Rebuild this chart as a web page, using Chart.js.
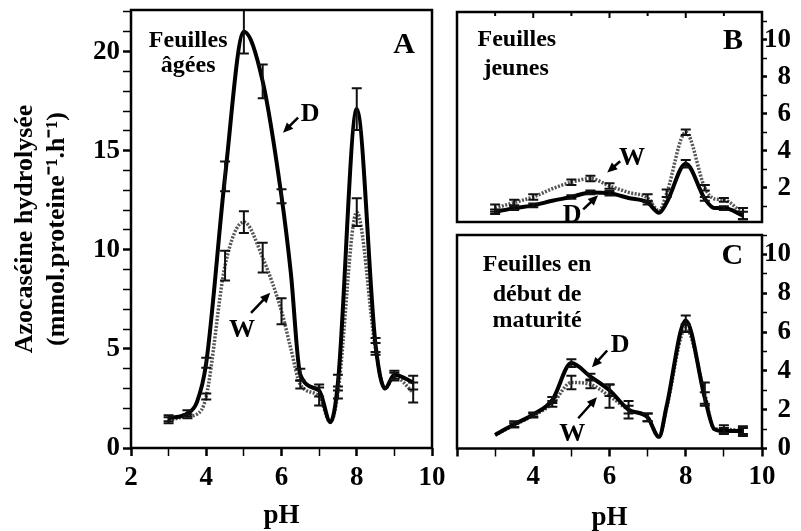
<!DOCTYPE html>
<html>
<head>
<meta charset="utf-8">
<script src="https://cdn.jsdelivr.net/npm/chart.js@4"></script>
<style>
  body { margin: 0; background: #fff; }
  #wrap { position: relative; width: 801px; height: 531px; overflow: hidden; background: #fff; }
  canvas { position: absolute; }
</style>
</head>
<body>
<div id="wrap">
  <canvas id="chartA" width="460" height="531" style="left:0;top:0"></canvas>
  <canvas id="chartB" width="356" height="232" style="left:445px;top:0"></canvas>
  <canvas id="chartC" width="356" height="303" style="left:445px;top:228px"></canvas>
</div>
<script>
const FONT = 'Liberation Serif';

// A - feuilles âgées
const phA = [3, 3.5, 3.75, 4, 4.5, 5, 5.5, 6, 6.25, 6.5, 7, 7.3, 7.5, 8, 8.5, 8.75, 9, 9.5];
const dryA = [1.5, 1.75, 2.3, 4.3, 13.7, 21.0, 18.5, 12.7, 8.8, 3.7, 2.9, 1.3, 3.3, 17.1, 5.2, 3.0, 3.7, 3.3];
const dryErrA = [0.15, 0.15, null, 0.25, 0.75, 1.1, 0.85, 0.35, null, 0.3, 0.3, null, 0.4, 1.05, 0.35, null, 0.2, 0.35];
const wetA = [1.4, 1.6, 1.7, 2.6, 9.2, 11.4, 9.6, 6.9, 5.0, 3.2, 2.6, 1.3, 2.8, 11.9, 5.0, 3.0, 3.6, 2.8];
const wetErrA = [0.15, 0.1, null, 0.15, 0.75, 0.55, 0.75, 0.65, null, 0.2, 0.45, null, 0.3, 0.7, 0.3, null, 0.2, 0.5];

// B and C share the same pH points
const phBC = [3, 3.5, 4, 4.5, 5, 5.5, 6, 6.5, 7, 7.3, 7.5, 8, 8.5, 8.75, 9, 9.5];
// B - feuilles jeunes
const dryB = [0.7, 0.9, 1.05, 1.3, 1.5, 1.75, 1.7, 1.45, 1.2, 0.65, 1.2, 3.3, 1.4, 0.9, 0.9, 0.5];
const dryErrB = [0.12, 0.1, 0.1, null, 0.1, 0.1, 0.12, null, 0.1, null, null, 0.2, 0.1, null, 0.1, 0.2];
const wetB = [0.9, 1.2, 1.5, 1.95, 2.3, 2.5, 2.1, 1.75, 1.45, 0.75, 1.7, 5.0, 2.0, 1.4, 1.35, 0.6];
const wetErrB = [0.2, 0.15, 0.15, null, 0.15, 0.15, 0.15, null, 0.2, null, 0.2, 0.15, 0.15, null, 0.1, 0.3];
// C - feuilles en début de maturité
const dryC = [0.7, 1.25, 1.75, 2.5, 4.4, 3.7, 3.0, 2.0, 1.6, 0.6, 2.2, 6.6, 2.6, 1.0, 0.9, 0.9];
const dryErrC = [null, 0.15, 0.1, 0.15, 0.2, 0.15, 0.3, 0.2, 0.2, null, null, 0.25, 0.3, null, 0.15, 0.15];
const wetC = [0.7, 1.2, 1.7, 2.3, 3.4, 3.3, 2.7, 2.0, 1.6, 0.6, 2.1, 6.2, 2.8, 1.0, 1.0, 0.9];
const wetErrC = [null, 0.1, 0.1, 0.15, 0.35, 0.2, 0.6, 0.45, 0.2, null, null, 0.2, 0.6, null, 0.2, 0.25];

const yTitle = ['Azocaséine hydrolysée', '(mmol.proteine\u207B\u00B9.h\u207B\u00B9)'];

function bold(size, lineHeight) {
    return { family: FONT, size: size, weight: 'bold', lineHeight: lineHeight || 1.2 };
}

function series(ph, vals, errs, wet) {
    return {
        data: ph.map((p, i) => ({ x: p, y: vals[i] })),
        errors: errs,
        borderColor: wet ? '#555' : '#000',
        borderWidth: wet ? 3.5 : 4,
        borderDash: wet ? [2, 1.5] : [],
        pointRadius: 0,
        cubicInterpolationMode: 'monotone',
        fill: false
    };
}

function tickWidth(major) {
    return c => (c.tick && Math.abs(c.tick.value % major) < 1e-6) ? 2.5 : 1.5;
}

// error bars, notes, arrows and the box round the plot
const framePlugin = {
    id: 'frame',
    afterDatasetsDraw(chart, args, opts) {
        const { ctx, chartArea: a } = chart;
        const xs = chart.scales.x, ys = chart.scales.y;
        ctx.save();
        ctx.strokeStyle = '#111';
        ctx.lineWidth = 2;
        chart.data.datasets.forEach(ds => {
            ds.data.forEach((pt, i) => {
                const e = ds.errors[i];
                if (e == null) return;
                const px = xs.getPixelForValue(pt.x);
                const t = ys.getPixelForValue(pt.y + e), b = ys.getPixelForValue(pt.y - e);
                ctx.beginPath();
                ctx.moveTo(px, t); ctx.lineTo(px, b);
                ctx.moveTo(px - 5, t); ctx.lineTo(px + 5, t);
                ctx.moveTo(px - 5, b); ctx.lineTo(px + 5, b);
                ctx.stroke();
            });
        });

        ctx.beginPath();
        ctx.rect(a.left, a.top, a.right - a.left, a.bottom - a.top);
        ctx.clip();
        ctx.fillStyle = '#000';
        ctx.textAlign = 'center';
        ctx.textBaseline = 'middle';
        (opts.notes || []).forEach(n => {
            ctx.font = 'bold ' + n.size + 'px "' + FONT + '"';
            ctx.fillText(n.text, xs.getPixelForValue(n.at[0]), ys.getPixelForValue(n.at[1]));
        });
        ctx.strokeStyle = '#000';
        ctx.lineWidth = 2.5;
        (opts.arrows || []).forEach(ar => {
            const x1 = xs.getPixelForValue(ar.from[0]), y1 = ys.getPixelForValue(ar.from[1]);
            const x2 = xs.getPixelForValue(ar.to[0]), y2 = ys.getPixelForValue(ar.to[1]);
            const ang = Math.atan2(y2 - y1, x2 - x1);
            ctx.beginPath();
            ctx.moveTo(x1, y1);
            ctx.lineTo(x2 - 6 * Math.cos(ang), y2 - 6 * Math.sin(ang));
            ctx.stroke();
            ctx.beginPath();
            ctx.moveTo(x2, y2);
            ctx.lineTo(x2 - 10 * Math.cos(ang) + 4.5 * Math.sin(ang), y2 - 10 * Math.sin(ang) - 4.5 * Math.cos(ang));
            ctx.lineTo(x2 - 10 * Math.cos(ang) - 4.5 * Math.sin(ang), y2 - 10 * Math.sin(ang) + 4.5 * Math.cos(ang));
            ctx.closePath();
            ctx.fill();
        });
        ctx.restore();

        ctx.save();
        ctx.strokeStyle = '#000';
        ctx.lineWidth = 2.5;
        ctx.strokeRect(a.left, a.top, a.right - a.left, a.bottom - a.top);
        if (opts.topTicks) {
            ctx.lineWidth = 2;
            for (let v = 3; v <= 9; v++) {
                const px = xs.getPixelForValue(v);
                ctx.beginPath();
                ctx.moveTo(px, a.top);
                ctx.lineTo(px, a.top + (v % 2 === 0 ? 6 : 4));
                ctx.stroke();
            }
        }
        ctx.restore();
    }
};

function xAxis(opts) {
    return Object.assign({
        type: 'linear', min: 2, max: 10,
        border: { display: false },
        grid: { drawOnChartArea: false, tickLength: 8, tickColor: '#000', tickWidth: tickWidth(2) },
        ticks: {
            stepSize: 1, includeBounds: false, autoSkip: false, maxRotation: 0,
            color: '#000', font: bold(27), padding: 6,
            callback: v => v % 2 === 0 ? v : ''
        },
        title: { display: true, text: 'pH', color: '#000', font: bold(27, 1), padding: { top: 0, bottom: 1 } }
    }, opts);
}

function yRight(min, max, labelOk) {
    return {
        position: 'right', min: min, max: max,
        afterFit: s => { s.width = 29; },
        border: { display: false },
        grid: { drawOnChartArea: false, tickLength: 5, tickColor: '#000', tickWidth: tickWidth(2) },
        ticks: {
            stepSize: 1, includeBounds: false, autoSkip: false, color: '#000', font: bold(27, 0.4),
            padding: 0, crossAlign: 'far',
            callback: v => labelOk(v) ? v : ''
        }
    };
}

function makeChart(id, ph, dry, dryErr, wet, wetErr, scales, padding, frameOpts) {
    return new Chart(document.getElementById(id), {
        type: 'line',
        data: {
            datasets: [series(ph, dry, dryErr, false), series(ph, wet, wetErr, true)]
        },
        options: {
            responsive: false,
            animation: false,
            layout: { padding: padding },
            scales: scales,
            plugins: { legend: { display: false }, tooltip: { enabled: false }, frame: frameOpts }
        },
        plugins: [framePlugin]
    });
}

makeChart('chartA', phA, dryA, dryErrA, wetA, wetErrA, {
    x: xAxis({ afterFit: s => { s.height = 83; } }),
    y: {
        min: 0, max: 22.1,
        afterFit: s => { s.width = 131; },
        border: { display: false },
        grid: { drawOnChartArea: false, tickLength: 8, tickColor: '#000', tickWidth: tickWidth(5) },
        ticks: {
            stepSize: 1, includeBounds: false, autoSkip: false, color: '#000', font: bold(27, 0.4), padding: 3,
            callback: v => v % 5 === 0 ? v : ''
        },
        title: { display: true, text: yTitle, color: '#000', font: bold(26, 1.2), padding: { top: 10 } }
    }
}, { top: 10, right: 28, left: 0, bottom: 0 }, {
    notes: [
        { text: 'Feuilles', at: [3.52, 20.56], size: 24 },
        { text: 'âgées', at: [3.52, 19.29], size: 24 },
        { text: 'A', at: [9.26, 20.3], size: 30 },
        { text: 'D', at: [6.76, 16.82], size: 26 },
        { text: 'W', at: [4.95, 5.96], size: 26 }
    ],
    arrows: [
        { from: [6.44, 16.67], to: [6.04, 15.91] },
        { from: [5.19, 6.82], to: [5.70, 7.83] }
    ]
});

makeChart('chartB', phBC, dryB, dryErrB, wetB, wetErrB, {
    x: { type: 'linear', min: 2, max: 10, display: false },
    y: yRight(0.15, 11.5, v => v > 0 && v % 2 === 0)
}, { top: 12, right: 10, left: 12, bottom: 10 }, {
    topTicks: true,
    notes: [
        { text: 'Feuilles', at: [3.57, 9.99], size: 24 },
        { text: 'jeunes', at: [3.55, 8.42], size: 24 },
        { text: 'B', at: [9.24, 9.94], size: 30 },
        { text: 'W', at: [6.59, 3.59], size: 26 },
        { text: 'D', at: [5.02, 0.5], size: 26 }
    ],
    arrows: [
        { from: [6.28, 3.43], to: [5.94, 2.83] },
        { from: [5.31, 0.83], to: [5.70, 1.59] }
    ]
});

makeChart('chartC', phBC, dryC, dryErrC, wetC, wetErrC, {
    x: xAxis({
        afterFit: s => { s.height = 82.5; },
        ticks: {
            stepSize: 1, includeBounds: false, autoSkip: false, maxRotation: 0,
            color: '#000', font: bold(27), padding: 4,
            callback: v => v > 2 && v % 2 === 0 ? v : ''
        },
        title: { display: true, text: 'pH', color: '#000', font: bold(27, 1), padding: { top: 0, bottom: -1 } }
    }),
    y: yRight(0, 11, v => v % 2 === 0)
}, { top: 7, right: 10, left: 12, bottom: 0 }, {
    notes: [
        { text: 'Feuilles en', at: [4.10, 9.46], size: 24 },
        { text: 'début de', at: [4.10, 7.92], size: 24 },
        { text: 'maturité', at: [4.10, 6.59], size: 24 },
        { text: 'C', at: [9.22, 9.92], size: 30 },
        { text: 'D', at: [6.28, 5.31], size: 26 },
        { text: 'W', at: [5.02, 0.74], size: 26 }
    ],
    arrows: [
        { from: [5.94, 5.05], to: [5.54, 4.18] },
        { from: [5.18, 1.56], to: [5.67, 2.64] }
    ]
});
</script>
</body>
</html>
